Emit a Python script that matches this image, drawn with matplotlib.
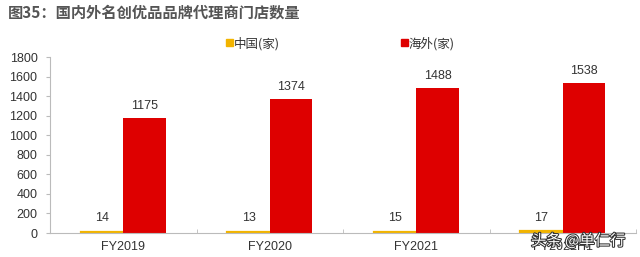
import matplotlib
matplotlib.use("Agg")
import matplotlib.pyplot as plt
import matplotlib.patheffects as pe
import numpy as np

plt.rcParams['font.family'] = ['Liberation Sans', 'Noto Sans CJK SC', 'DejaVu Sans']

categories = ["FY2019", "FY2020", "FY2021", "FY2022H1"]
china = [14, 13, 15, 17]
overseas = [1175, 1374, 1488, 1538]
series_names = ["中国(家)", "海外(家)"]
yticks = [0, 200, 400, 600, 800, 1000, 1200, 1400, 1600, 1800]

YELLOW = "#F2B400"
RED = "#DE0000"
GREY = "#333333"
CJK = ['Noto Sans CJK SC', 'DejaVu Sans']

fig = plt.figure(figsize=(6.4, 2.57), dpi=100)
ax = fig.add_axes([50 / 640, 24 / 257, 586 / 640, 176 / 257])

x = np.arange(len(categories))
w = 0.29
# thin bars: edge makes them visible like in the source chart
ax.bar(x - w / 2, china, width=w, color=YELLOW, edgecolor=YELLOW, linewidth=1.6)
ax.bar(x + w / 2, overseas, width=w, color=RED)

for xi, v in zip(x, china):
    ax.text(xi - w / 2, v + 80, str(v), ha="center", va="bottom", fontsize=9, color=GREY)
for xi, v in zip(x, overseas):
    ax.text(xi + w / 2, v + 60, str(v), ha="center", va="bottom", fontsize=9, color=GREY)

ax.set_xlim(-0.5, len(categories) - 0.5)
ax.set_ylim(0, 1800)
ax.set_yticks(yticks)
ax.set_xticks(x)
ax.set_xticklabels(categories, fontsize=9, color=GREY)
ax.tick_params(axis="y", labelsize=9, colors=GREY, length=3, color="#bbbbbb", pad=6)
ax.tick_params(axis="x", length=0, pad=6)
ax.set_xticks(np.arange(len(categories) + 1) - 0.5, minor=True)
ax.tick_params(axis="x", which="minor", length=3, color="#bbbbbb", direction="in")
for s in ["top", "right"]:
    ax.spines[s].set_visible(False)
ax.spines["left"].set_color("#bbbbbb")
ax.spines["bottom"].set_color("#bbbbbb")

# legend
fig.patches.append(plt.Rectangle((226 / 640, 1 - 46 / 257), 7 / 640, 7 / 257,
                                 transform=fig.transFigure, color=YELLOW))
fig.text(234 / 640, 1 - 44 / 257, series_names[0], fontsize=9, color=GREY, va="center", family=CJK)
fig.patches.append(plt.Rectangle((401 / 640, 1 - 46 / 257), 7 / 640, 7 / 257,
                                 transform=fig.transFigure, color=RED))
fig.text(409 / 640, 1 - 44 / 257, series_names[1], fontsize=9, color=GREY, va="center", family=CJK)

fig.text(8 / 640, 1 - 13 / 257, "图35：国内外名创优品品牌代理商门店数量", fontsize=11,
         fontweight="bold", color="#555555", va="center", family=CJK)

# watermark
fig.text(531 / 640, 1 - 241 / 257, "头条 @单仁行", fontsize=11, color="white", va="center",
         family=CJK, path_effects=[pe.withStroke(linewidth=1.5, foreground="#333333")])

fig.savefig("out.png", dpi=100)
